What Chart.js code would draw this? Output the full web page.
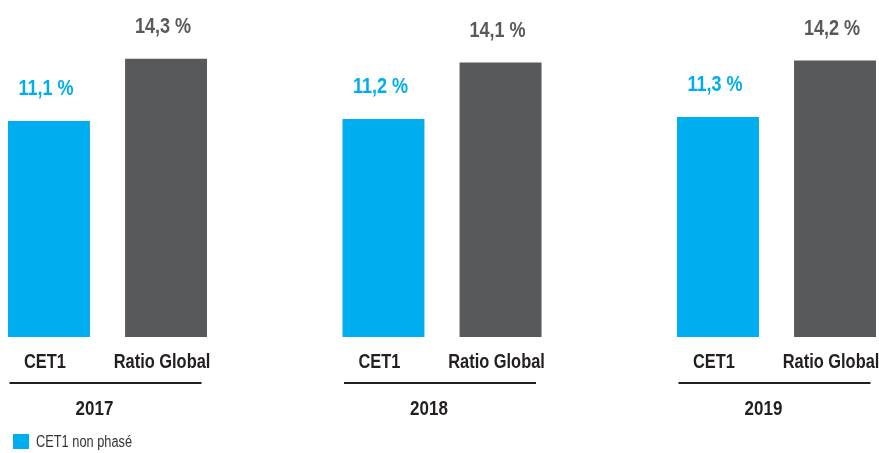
<!DOCTYPE html>
<html>
<head>
<meta charset="utf-8">
<script src="https://cdn.jsdelivr.net/npm/chart.js@4.4.1/dist/chart.umd.min.js"></script>
<style>
  body { margin: 0; background: #fff; }
  #wrap { width: 879px; height: 453px; }
</style>
</head>
<body>
<div id="wrap"><canvas id="ratioChart" width="879" height="453"></canvas></div>
<script>
// données
const years = ['2017', '2018', '2019'];
const seriesNames = ['CET1', 'Ratio Global'];
const cet1Values = [11.1, 11.2, 11.3];
const globalValues = [14.3, 14.1, 14.2];
const legendText = 'CET1 non phasé';

const CYAN = '#00aeef';
const GREY = '#58595b';
const INK = '#231f20';
const FONT = "'Liberation Sans', Arial, sans-serif";
const NARROW = 0.82; // police condensée simulée

function formatPct(v) {
    return v.toFixed(1).replace('.', ',') + ' %';
}

function narrowText(ctx, text, x, y, sx) {
    ctx.save();
    ctx.translate(x, y);
    ctx.scale(sx, 1);
    ctx.fillText(text, 0, 0);
    ctx.restore();
}

// étiquettes, lignes sous les groupes et légende
const labelsPlugin = {
    id: 'labelsPlugin',
    afterDatasetsDraw(chart) {
        const ctx = chart.ctx;
        const xScale = chart.scales.x;
        const base = chart.scales.y.getPixelForValue(0);
        ctx.save();
        ctx.textAlign = 'center';
        ctx.textBaseline = 'middle';

        chart.data.datasets.forEach((ds, di) => {
            const meta = chart.getDatasetMeta(di);
            meta.data.forEach((bar, i) => {
                // valeur au-dessus de la barre
                ctx.fillStyle = ds.backgroundColor;
                ctx.font = 'bold 22px ' + FONT;
                narrowText(ctx, formatPct(ds.data[i]), bar.x - 3, bar.y - 32, NARROW);
                // nom de la série sous la barre
                ctx.fillStyle = INK;
                ctx.font = 'bold 20px ' + FONT;
                narrowText(ctx, ds.label, bar.x - 4, bar.base + 25, NARROW);
            });
        });

        years.forEach((year, i) => {
            const cx = xScale.getPixelForValue(i);
            ctx.strokeStyle = INK;
            ctx.lineWidth = 2;
            ctx.beginPath();
            ctx.moveTo(cx - 98, base + 46);
            ctx.lineTo(cx + 94, base + 46);
            ctx.stroke();
            ctx.fillStyle = INK;
            ctx.font = 'bold 20px ' + FONT;
            narrowText(ctx, year, cx - 13, base + 72, 0.85);
        });

        // légende
        ctx.fillStyle = CYAN;
        ctx.fillRect(13, 434, 16, 15);
        ctx.fillStyle = '#333333';
        ctx.font = '16px ' + FONT;
        ctx.textAlign = 'left';
        narrowText(ctx, legendText, 36, 443, 0.8);
        ctx.restore();
    }
};

new Chart(document.getElementById('ratioChart').getContext('2d'), {
    type: 'bar',
    data: {
        labels: years,
        datasets: [{
            label: seriesNames[0],
            data: cet1Values,
            backgroundColor: CYAN,
            clip: false
        }, {
            label: seriesNames[1],
            data: globalValues,
            backgroundColor: GREY,
            clip: false
        }]
    },
    options: {
        responsive: false,
        animation: false,
        layout: {
            padding: { left: 107.5, right: 102.5, top: 45, bottom: 116 }
        },
        datasets: {
            bar: {
                categoryPercentage: 0.7,
                barPercentage: 0.7
            }
        },
        scales: {
            x: {
                display: false,
                offset: false
            },
            y: {
                display: false,
                min: 0,
                max: 15
            }
        },
        plugins: {
            legend: { display: false },
            tooltip: { enabled: false }
        }
    },
    plugins: [labelsPlugin]
});
</script>
</body>
</html>
